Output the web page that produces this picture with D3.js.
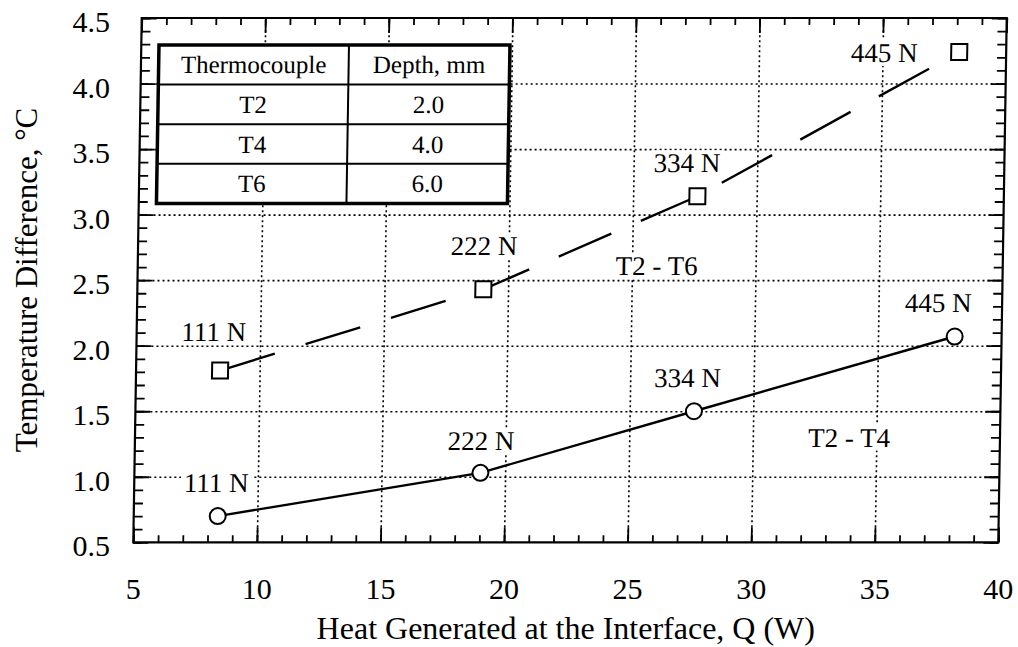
<!DOCTYPE html>
<html>
<head>
<meta charset="utf-8">
<script src="https://cdn.jsdelivr.net/npm/d3@7"></script>
<style>
  body { margin: 0; background: #fff; }
  text { font-family: "Liberation Serif", "Times New Roman", serif; fill: #000; }
</style>
</head>
<body>
<script>

const xTicks = [5, 10, 15, 20, 25, 30, 35, 40];
const yTicks = [0.5, 1.0, 1.5, 2.0, 2.5, 3.0, 3.5, 4.0, 4.5];
const loads = ["111 N", "222 N", "334 N", "445 N"];
const heatQ = [8.4, 19.0, 27.6, 38.1];
const dT26 = [1.81, 2.43, 3.14, 4.24];
const dT24 = [0.70, 1.03, 1.50, 2.07];
const tableHead = ["Thermocouple", "Depth, mm"];
const thermocouples = ["T2", "T4", "T6"];
const depths = ["2.0", "4.0", "6.0"];

const W = 1018, H = 647;
const L = 133.3, R = 998.3, T = 18, B = 542.3;

const svg = d3.select("body")
    .append("svg")
    .attr("width", W)
    .attr("height", H);

const x = d3.scaleLinear().domain([5, 40]).range([L, R]);
const y = d3.scaleLinear().domain([0.5, 4.5]).range([B, T]);

// tick labels (outside the scanned frame)
svg.append("g")
    .selectAll("text")
    .data(xTicks)
    .enter()
    .append("text")
    .attr("x", d => x(d))
    .attr("y", 599)
    .attr("text-anchor", "middle")
    .style("font-size", "30px")
    .text(d => d);

svg.append("g")
    .selectAll("text")
    .data(yTicks)
    .enter()
    .append("text")
    .attr("x", 110)
    .attr("y", d => y(d) + 14)
    .attr("text-anchor", "end")
    .style("font-size", "30px")
    .text(d => d.toFixed(1));

svg.append("text")
    .attr("x", (L + R) / 2)
    .attr("y", 639)
    .attr("text-anchor", "middle")
    .style("font-size", "32px")
    .text("Heat Generated at the Interface, Q (W)");

svg.append("text")
    .attr("transform", `translate(37,280) rotate(-90)`)
    .attr("text-anchor", "middle")
    .style("font-size", "31px")
    .text("Temperature Difference, °C");

// plot area, slightly sheared like the scan
const g = svg.append("g")
    .attr("transform", `translate(0,${B}) skewX(-0.92) translate(0,${-B})`);

// dotted grid
const gx = g.append("g")
    .attr("transform", `translate(0,${B})`)
    .call(d3.axisBottom(x).tickValues(xTicks.slice(1, -1)).tickSize(-(B - T)).tickFormat(""));
const gy = g.append("g")
    .attr("transform", `translate(${L},0)`)
    .call(d3.axisLeft(y).tickValues(yTicks.slice(1, -1)).tickSize(-(R - L)).tickFormat(""));
[gx, gy].forEach(a => {
    a.select(".domain").remove();
    a.selectAll("line")
        .attr("stroke", "#000")
        .attr("stroke-width", 1.6)
        .attr("stroke-dasharray", "2,3");
});

// inward ticks on all four sides
const xMinor = d3.range(5, 40.01, 1);
const yMinor = d3.range(0.5, 4.501, 0.1);
function ticks(axis, tx, ty, vals, size) {
    const a = g.append("g")
        .attr("transform", `translate(${tx},${ty})`)
        .call(axis.tickValues(vals).tickSize(-size).tickFormat(""));
    a.select(".domain").remove();
    a.selectAll("line").attr("stroke", "#000").attr("stroke-width", 1.8);
}
ticks(d3.axisBottom(x), 0, B, xMinor, 7);
ticks(d3.axisTop(x), 0, T, xMinor, 7);
ticks(d3.axisLeft(y), L, 0, yMinor, 9);
ticks(d3.axisRight(y), R, 0, yMinor, 9);
ticks(d3.axisBottom(x), 0, B, xTicks, 15);
ticks(d3.axisTop(x), 0, T, xTicks, 15);
ticks(d3.axisLeft(y), L, 0, yTicks, 15);
ticks(d3.axisRight(y), R, 0, yTicks, 15);

g.append("rect")
    .attr("x", L)
    .attr("y", T)
    .attr("width", R - L)
    .attr("height", B - T)
    .attr("fill", "none")
    .attr("stroke", "#000")
    .attr("stroke-width", 2.2);

// labels with white backing (they break the grid lines)
function label(px, py, txt) {
    const t = g.append("text")
        .attr("x", px)
        .attr("y", py)
        .attr("text-anchor", "middle")
        .style("font-size", "27px")
        .text(txt);
    const bb = t.node().getBBox();
    g.insert("rect", function () { return t.node(); })
        .attr("x", bb.x - 3)
        .attr("y", bb.y + 2)
        .attr("width", bb.width + 6)
        .attr("height", bb.height - 4)
        .attr("fill", "#fff");
}

// series lines
const line = d3.line().x(d => x(d[0])).y(d => y(d[1]));
const pts26 = heatQ.map((q, i) => [q, dT26[i]]);
const pts24 = heatQ.map((q, i) => [q, dT24[i]]);

g.append("path")
    .attr("d", line(pts26))
    .attr("fill", "none")
    .attr("stroke", "#000")
    .attr("stroke-width", 2.4)
    .attr("stroke-dasharray", "57,32");

g.append("path")
    .attr("d", line(pts24))
    .attr("fill", "none")
    .attr("stroke", "#000")
    .attr("stroke-width", 2.4);

g.selectAll(".sq")
    .data(pts26)
    .enter()
    .append("rect")
    .attr("x", d => x(d[0]) - 8)
    .attr("y", d => y(d[1]) - 8)
    .attr("width", 16)
    .attr("height", 16)
    .attr("fill", "#fff")
    .attr("stroke", "#000")
    .attr("stroke-width", 2);

g.selectAll(".ci")
    .data(pts24)
    .enter()
    .append("circle")
    .attr("cx", d => x(d[0]))
    .attr("cy", d => y(d[1]))
    .attr("r", 8)
    .attr("fill", "#fff")
    .attr("stroke", "#000")
    .attr("stroke-width", 2);

// load annotations
const sqOff = [[-7, -30], [0, -34], [-11, -24], [-75, 10]];
const ciOff = [[-2, -24], [0, -23], [-7, -24], [-17, -25]];
pts26.forEach((d, i) => label(x(d[0]) + sqOff[i][0], y(d[1]) + sqOff[i][1], loads[i]));
pts24.forEach((d, i) => label(x(d[0]) + ciOff[i][0], y(d[1]) + ciOff[i][1], loads[i]));
label(x(26.0), y(2.54), "T2 - T6");
label(x(33.9), y(1.23), "T2 - T4");

// thermocouple table
const tL = 151, tR = 502, tT = 45, rowH = 39.6, colX = 341;
const rows = [tableHead].concat(thermocouples.map((t, i) => [t, depths[i]]));
const tb = g.append("g");
tb.append("rect")
    .attr("x", tL)
    .attr("y", tT)
    .attr("width", tR - tL)
    .attr("height", rowH * rows.length)
    .attr("fill", "#fff");
rows.forEach((r, i) => {
    if (i > 0) {
        tb.append("line")
            .attr("x1", tL).attr("x2", tR)
            .attr("y1", tT + rowH * i).attr("y2", tT + rowH * i)
            .attr("stroke", "#000").attr("stroke-width", 2);
    }
    tb.append("text")
        .attr("x", (tL + colX) / 2)
        .attr("y", tT + rowH * i + 28.5)
        .attr("text-anchor", "middle")
        .style("font-size", "25px")
        .text(r[0]);
    tb.append("text")
        .attr("x", (colX + tR) / 2)
        .attr("y", tT + rowH * i + 28.5)
        .attr("text-anchor", "middle")
        .style("font-size", "25px")
        .text(r[1]);
});
tb.append("line")
    .attr("x1", colX).attr("x2", colX)
    .attr("y1", tT).attr("y2", tT + rowH * rows.length)
    .attr("stroke", "#000").attr("stroke-width", 2);
tb.append("rect")
    .attr("x", tL)
    .attr("y", tT)
    .attr("width", tR - tL)
    .attr("height", rowH * rows.length)
    .attr("fill", "none")
    .attr("stroke", "#000")
    .attr("stroke-width", 3.5);

</script>
</body>
</html>
